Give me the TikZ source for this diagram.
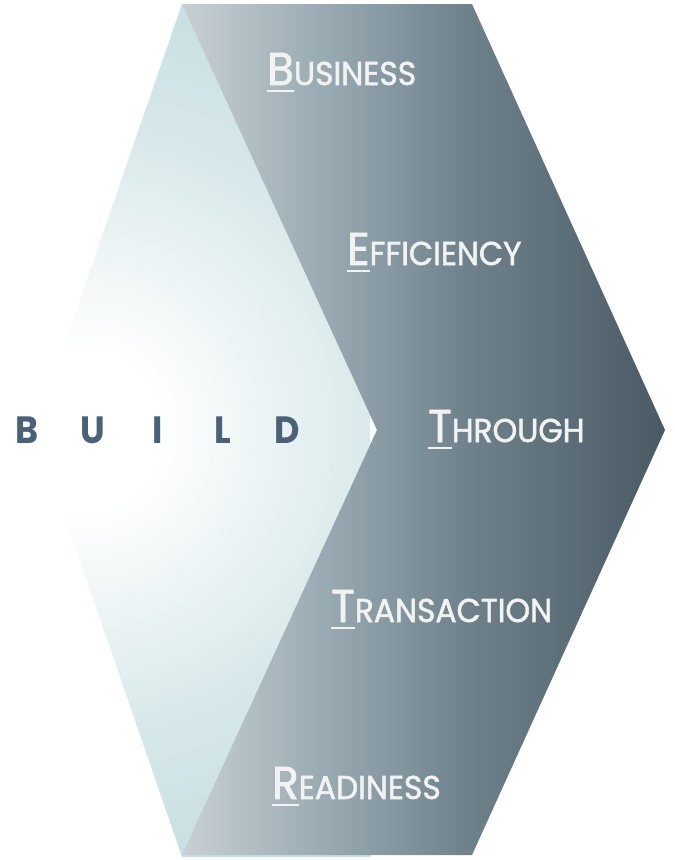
\documentclass[tikz,border=0pt]{standalone}
\usepackage{fontspec}
\newfontfamily\popfont{Poppins}[FakeBold=1.6, FakeStretch=0.95]
\newfontfamily\popbold{Poppins}[FakeStretch=0.92]
\definecolor{tealL}{HTML}{C8DFE2}
\definecolor{tealM}{HTML}{D8E8EA}
\definecolor{txtW}{HTML}{F2F2F2}
\definecolor{buildC}{HTML}{4A6177}
\definecolor{dkA}{HTML}{C8D0D4}
\definecolor{dkB}{HTML}{9AABB3}
\definecolor{dkC}{HTML}{6E818B}
\definecolor{dkD}{HTML}{4A5A64}
\pgfdeclarehorizontalshading{darkgrad}{100bp}{color(0bp)=(dkA); color(25bp)=(dkA); color(39.3bp)=(dkB); color(54.8bp)=(dkC); color(75bp)=(dkD); color(100bp)=(dkD)}
\pgfdeclareradialshading{lightrad}{\pgfpoint{0bp}{0bp}}{color(0bp)=(white); color(2.5bp)=(white); color(9.4bp)=(tealM); color(13.7bp)=(tealL); color(50bp)=(tealL)}
\newcommand\lbl[2]{\setbox0\hbox{\fontsize{46}{46}\selectfont #1}\rlap{\rule[-7pt]{\wd0}{2pt}}\box0\fontsize{33}{33}\selectfont #2}
\tikzset{
  word/.style={anchor=base west, inner sep=0pt, text=txtW, font=\popfont},
  buildtxt/.style={anchor=base, inner sep=0pt, font=\popbold\bfseries\fontsize{38}{38}\selectfont}
}
\newcommand\spaced{\makebox[65pt]{B}\makebox[65pt]{U}\makebox[65pt]{I}\makebox[65pt]{L}\makebox[65pt]{D}}
\begin{document}
\begin{tikzpicture}[x=1pt,y=-1pt]
\useasboundingbox (0,0) rectangle (675,860);
% light hexagon
\begin{scope}
  \clip (182,4) -- (370,4) -- (563,430) -- (370,857) -- (182,857) -- (35,430) -- cycle;
  \shade[shading=lightrad] (80,430) circle (800);
\end{scope}
% white sliver at notch
\fill[white] (370,416) -- (377,430) -- (370,444) -- cycle;
% dark chevron
\shade[shading=darkgrad] (182,4) -- (472,4) -- (665,430) -- (472,855) -- (182,855) -- (377,430) -- cycle;
% BUILD
\node[buildtxt, text=buildC] (build) at (157.5,443) {\spaced};
% labels
\node[word] (business) at (267,85) {\lbl{B}{USINESS}};
\node[word] (efficiency) at (347,265) {\lbl{E}{FFICIENCY}};
\node[word] (through) at (428,442) {\lbl{T}{HROUGH}};
\node[word] (transaction) at (331,622) {\lbl{T}{RANSACTION}};
\node[word] (readiness) at (272,799) {\lbl{R}{EADINESS}};
\end{tikzpicture}
\end{document}
